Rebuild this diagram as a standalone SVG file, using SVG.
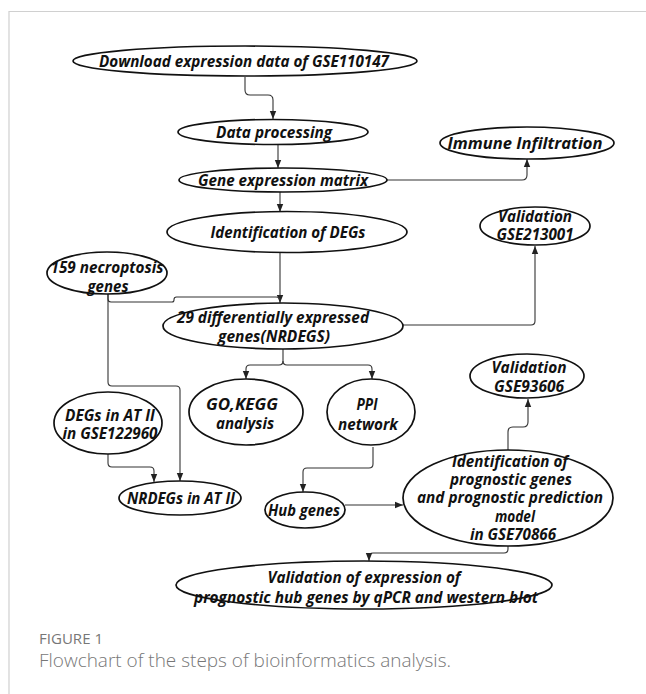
<svg xmlns="http://www.w3.org/2000/svg" width="646" height="694" viewBox="0 0 646 694">
<defs>
<marker id="arr" markerUnits="userSpaceOnUse" markerWidth="8" markerHeight="8" viewBox="0 0 8 8" refX="8" refY="4" orient="auto">
<path d="M0,0.8 L8,4 L0,7.2 Z" fill="#222"/>
</marker>
<style>
.n ellipse{fill:#fff;stroke:#111;stroke-width:1.7}
.n text{font-family:"Open Sans","Liberation Sans",sans-serif;font-weight:bold;font-style:italic;font-size:16px;fill:#111;text-anchor:middle}
.c path{fill:none;stroke:#333;stroke-width:1.1}
.c .a{marker-end:url(#arr)}
.frame{stroke:#d0d0d0;stroke-width:1.2;fill:none}
.cap{font-family:"Open Sans","Liberation Sans",sans-serif;fill:#777}
</style>
</defs>
<rect width="646" height="694" fill="#fff"/>
<path class="frame" d="M646,11.5 H9 V694"/>

<g class="c" id="connectors">
<path class="a" d="M245,77 V90 Q245,95 250,95 H268 Q273,95 273,100 V119"/>
<path class="a" d="M278,145 V168"/>
<path class="a" d="M386,180 H522 Q527,180 527,175 V159"/>
<path class="a" d="M280,192 V212"/>
<path class="a" d="M280,253 V303"/>
<path d="M108,294 V299 Q108,302 111,302 H172 Q174,302 174,300 V299.5 Q174,297 176.5,297 H276 Q280,297 280,300"/>
<path class="a" d="M108,294 V382 Q108,386 112,386 H176 Q180,386 180,390 V481"/>
<path class="a" d="M108,454 V463 Q108,467 112,467 H150 Q154,467 154,471 V482"/>
<path class="a" d="M403,325 H531 Q535,325 535,321 V246"/>
<path class="a" d="M283,349 V361 Q283,365 279,365 H250 Q246,365 246,369 V379"/>
<path class="a" d="M283,361 Q283,365 287,365 H368 Q372,365 372,369 V379"/>
<path class="a" d="M373,447 V464 Q373,468 369,468 H307 Q303,468 303,472 V492"/>
<path class="a" d="M345,505 H403"/>
<path class="a" d="M508,450 V432 Q508,427 513,427 H523 Q528,427 528,422 V399"/>
<path class="a" d="M508,546 V549 Q508,553 504,553 H373 Q369,553 369,557 V561"/>
</g>

<g class="n" id="download">
<ellipse cx="245" cy="61" rx="172" ry="15"/>
<text x="244" y="67" textLength="290" lengthAdjust="spacingAndGlyphs">Download expression data of GSE110147</text>
</g>
<g class="n" id="data-processing">
<ellipse cx="273" cy="132" rx="95" ry="12.5"/>
<text x="274" y="138" textLength="116" lengthAdjust="spacingAndGlyphs">Data processing</text>
</g>
<g class="n" id="immune">
<ellipse cx="527" cy="143" rx="87" ry="16"/>
<text x="525" y="149" textLength="155" lengthAdjust="spacingAndGlyphs">Immune Infiltration</text>
</g>
<g class="n" id="gene-matrix">
<ellipse cx="283" cy="180" rx="104" ry="12"/>
<text x="283" y="186" textLength="170" lengthAdjust="spacingAndGlyphs">Gene expression matrix</text>
</g>
<g class="n" id="degs">
<ellipse cx="287" cy="232" rx="120" ry="20.5"/>
<text x="288" y="238" textLength="155" lengthAdjust="spacingAndGlyphs">Identification of DEGs</text>
</g>
<g class="n" id="val-gse213001">
<ellipse cx="535" cy="226" rx="55" ry="19"/>
<text x="535" y="222" textLength="74" lengthAdjust="spacingAndGlyphs">Validation</text>
<text x="535" y="240" textLength="77" lengthAdjust="spacingAndGlyphs">GSE213001</text>
</g>
<g class="n" id="necroptosis">
<ellipse cx="107" cy="273" rx="60" ry="21"/>
<text x="107" y="273" textLength="113" lengthAdjust="spacingAndGlyphs">159 necroptosis</text>
<text x="108" y="292" textLength="41" lengthAdjust="spacingAndGlyphs">genes</text>
</g>
<g class="n" id="nrdegs">
<ellipse cx="283" cy="326" rx="120" ry="23"/>
<text x="273" y="323" textLength="192" lengthAdjust="spacingAndGlyphs">29 differentially expressed</text>
<text x="274" y="342" textLength="112" lengthAdjust="spacingAndGlyphs">genes(NRDEGS)</text>
</g>
<g class="n" id="go-kegg">
<ellipse cx="246" cy="412" rx="57" ry="33"/>
<text x="242" y="410" textLength="72" lengthAdjust="spacingAndGlyphs">GO,KEGG</text>
<text x="245" y="429" textLength="58" lengthAdjust="spacingAndGlyphs">analysis</text>
</g>
<g class="n" id="ppi">
<ellipse cx="371" cy="412" rx="44" ry="33"/>
<text x="367" y="410" textLength="21" lengthAdjust="spacingAndGlyphs">PPI</text>
<text x="368" y="430" textLength="60" lengthAdjust="spacingAndGlyphs">network</text>
</g>
<g class="n" id="degs-at2">
<ellipse cx="108" cy="423" rx="54" ry="31"/>
<text x="110" y="421" textLength="90" lengthAdjust="spacingAndGlyphs">DEGs in AT II</text>
<text x="110" y="439" textLength="95" lengthAdjust="spacingAndGlyphs">in GSE122960</text>
</g>
<g class="n" id="nrdegs-at2">
<ellipse cx="180" cy="498" rx="61" ry="17"/>
<text x="181" y="504" textLength="108" lengthAdjust="spacingAndGlyphs">NRDEGs in AT II</text>
</g>
<g class="n" id="hub">
<ellipse cx="305" cy="510" rx="40" ry="18"/>
<text x="304" y="516" textLength="72" lengthAdjust="spacingAndGlyphs">Hub genes</text>
</g>
<g class="n" id="prognostic">
<ellipse cx="508" cy="498" rx="105" ry="48"/>
<text x="510" y="467" textLength="116" lengthAdjust="spacingAndGlyphs">Identification of</text>
<text x="511" y="485" textLength="122" lengthAdjust="spacingAndGlyphs">prognostic genes</text>
<text x="510" y="503" textLength="186" lengthAdjust="spacingAndGlyphs">and prognostic prediction</text>
<text x="515" y="522" textLength="40" lengthAdjust="spacingAndGlyphs">model</text>
<text x="513" y="540" textLength="86" lengthAdjust="spacingAndGlyphs">in GSE70866</text>
</g>
<g class="n" id="val-gse93606">
<ellipse cx="527" cy="376" rx="57" ry="22"/>
<text x="529" y="373" textLength="75" lengthAdjust="spacingAndGlyphs">Validation</text>
<text x="529" y="392" textLength="70" lengthAdjust="spacingAndGlyphs">GSE93606</text>
</g>
<g class="n" id="validation-expression">
<ellipse cx="364" cy="585" rx="188" ry="24"/>
<text x="364" y="583" textLength="193" lengthAdjust="spacingAndGlyphs">Validation of expression of</text>
<text x="366" y="603" textLength="344" lengthAdjust="spacingAndGlyphs">prognostic hub genes by qPCR and western blot</text>
</g>

<text class="cap" x="39" y="644" font-size="14" textLength="64" lengthAdjust="spacingAndGlyphs">FIGURE 1</text>
<text class="cap" x="39" y="667" font-size="18" font-weight="300" textLength="412" lengthAdjust="spacingAndGlyphs">Flowchart of the steps of bioinformatics analysis.</text>
</svg>
